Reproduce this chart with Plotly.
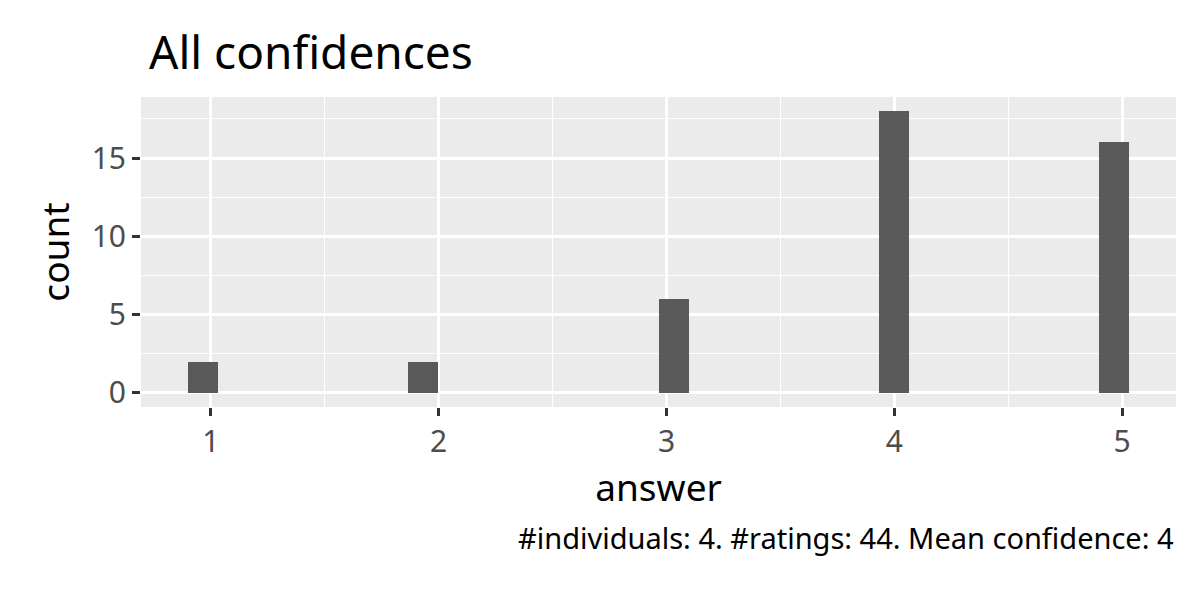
import plotly.graph_objects as go

bin_centers = [0.9655, 1.931, 3.034, 4.0, 4.9655]
counts = [2, 2, 6, 18, 16]
bin_width = 4 / 30

fig = go.Figure(go.Bar(x=bin_centers, y=counts, width=[bin_width]*5,
                       marker=dict(color="#595959", line=dict(width=0))))
F = "Noto Sans"
fig.update_layout(
    width=1200, height=600, margin=dict(l=133, r=32, t=89, b=201),
    paper_bgcolor="white", plot_bgcolor="#EBEBEB", bargap=0, showlegend=False,
    font=dict(family=F, color="black"),
    title=dict(text="All confidences", x=141/1200, xanchor="left", y=0.925, yanchor="middle",
               font=dict(size=46, family=F, color="black")),
    annotations=[dict(text="#individuals: 4. #ratings: 44. Mean confidence: 4",
                      xref="paper", yref="paper", x=1.0, xanchor="right", y=-0.42, yanchor="middle",
                      showarrow=False, font=dict(size=29, family=F, color="black"))],
)
fig.update_xaxes(range=[0.693, 5.237], tickvals=[1, 2, 3, 4, 5], ticks="outside", ticklen=8,
                 tickwidth=3, tickcolor="#333333", tickfont=dict(size=30, color="#4D4D4D"),
                 gridcolor="white", gridwidth=2.5, zeroline=False, showline=False,
                 minor=dict(tick0=0.5, dtick=1, showgrid=True, gridcolor="white", gridwidth=1.2),
                 title=dict(text="answer", font=dict(size=37, color="black"), standoff=10))
fig.update_yaxes(range=[-0.9, 18.9], tickvals=[0, 5, 10, 15], ticks="outside", ticklen=8,
                 tickwidth=3, tickcolor="#333333", tickfont=dict(size=30, color="#4D4D4D"),
                 gridcolor="white", gridwidth=2.5, zeroline=False, showline=False,
                 minor=dict(tick0=2.5, dtick=5, showgrid=True, gridcolor="white", gridwidth=1.2),
                 title=dict(text="count", font=dict(size=37, color="black"), standoff=10))
fig.write_html("out.html")
